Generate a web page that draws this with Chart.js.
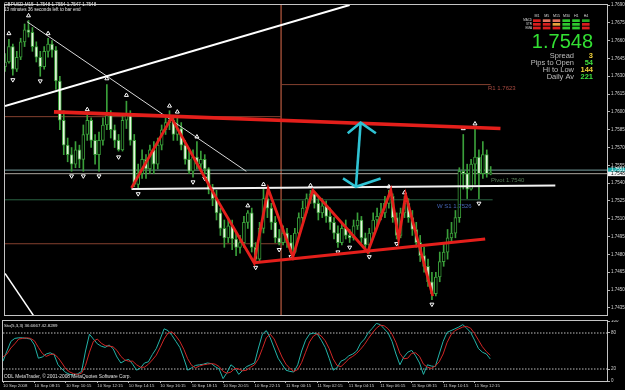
<!DOCTYPE html>
<html>
<head>
<meta charset="utf-8">
<script src="https://cdn.jsdelivr.net/npm/chart.js@4.4.1/dist/chart.umd.min.js"></script>
<style>
    html, body { margin: 0; padding: 0; background: #000; }
    #wrap { position: relative; width: 625px; height: 390px; overflow: hidden; background: #000; }
    #mainChart { position: absolute; left: 0; top: 0; }
    #stochChart { position: absolute; left: 0; top: 320px; }
</style>
</head>
<body>
<div id="wrap">
    <canvas id="mainChart" width="625" height="320"></canvas>
    <canvas id="stochChart" width="625" height="70"></canvas>
</div>
<script>
// GBPUSD M15 candles, one per 15 minutes from 10 Sep 06:15
const opens = [
    1.7638,1.7642,1.7655,1.7636,1.7646,1.7659,1.7669,1.7667,1.7655,1.7646,
    1.7638,1.7651,1.7657,1.7652,1.7626,1.7593,1.7572,1.7564,1.7556,1.7568,
    1.7560,1.7581,1.7593,1.7576,1.7564,1.7576,1.7589,1.7597,1.7585,1.7576,
    1.7568,1.7593,1.7597,1.7576,1.7539,1.7548,1.7560,1.7552,1.7568,1.7556,
    1.7572,1.7585,1.7591,1.7593,1.7581,1.7586,1.7572,1.7560,1.7550,1.7562,
    1.7556,1.7560,1.7552,1.7535,1.7527,1.7515,1.7502,1.7494,1.7504,1.7493,
    1.7486,1.7490,1.7507,1.7515,1.7486,1.7476,1.7502,1.7527,1.7519,1.7507,
    1.7494,1.7490,1.7498,1.7490,1.7482,1.7498,1.7511,1.7519,1.7527,1.7531,
    1.7523,1.7515,1.7521,1.7512,1.7507,1.7498,1.7490,1.7502,1.7496,1.7494,
    1.7504,1.7509,1.7494,1.7488,1.7498,1.7509,1.7512,1.7515,1.7523,1.7529,
    1.7511,1.7496,1.7515,1.7523,1.7511,1.7501,1.7490,1.7479,1.7470,1.7457,
    1.7447,1.7461,1.7474,1.7482,1.7494,1.7498,1.7511,1.7550,1.7548,1.7535,
    1.7556,1.7562,1.7548,1.7564,1.7548
];
const highs = [
    1.7649,1.7661,1.7657,1.7651,1.7662,1.7674,1.7677,1.7671,1.7659,1.7651,
    1.7655,1.7662,1.7660,1.7655,1.7630,1.7601,1.7578,1.7570,1.7575,1.7572,
    1.7589,1.7598,1.7595,1.7581,1.7583,1.7595,1.7623,1.7601,1.7589,1.7581,
    1.7598,1.7609,1.7601,1.7581,1.7556,1.7568,1.7564,1.7572,1.7575,1.7578,
    1.7589,1.7595,1.7601,1.7597,1.7595,1.7591,1.7576,1.7567,1.7568,1.7575,
    1.7567,1.7564,1.7553,1.7539,1.7534,1.7519,1.7509,1.7511,1.7509,1.7498,
    1.7496,1.7512,1.7517,1.7519,1.7490,1.7507,1.7535,1.7531,1.7523,1.7512,
    1.7501,1.7504,1.7502,1.7496,1.7502,1.7515,1.7525,1.7531,1.7534,1.7533,
    1.7527,1.7527,1.7525,1.7519,1.7511,1.7504,1.7507,1.7509,1.7501,1.7509,
    1.7515,1.7512,1.7498,1.7502,1.7515,1.7519,1.7523,1.7529,1.7534,1.7531,
    1.7515,1.7519,1.7529,1.7527,1.7517,1.7507,1.7496,1.7486,1.7476,1.7465,
    1.7465,1.7482,1.7490,1.7501,1.7507,1.7517,1.7553,1.7581,1.7556,1.7560,
    1.7587,1.7568,1.7575,1.7568,1.7554
];
const lows = [
    1.7634,1.7641,1.7631,1.7634,1.7644,1.7655,1.7663,1.7651,1.7642,1.7630,
    1.7636,1.7646,1.7646,1.7619,1.7585,1.7564,1.7558,1.7550,1.7553,1.7553,
    1.7550,1.7576,1.7570,1.7556,1.7550,1.7572,1.7585,1.7578,1.7570,1.7567,
    1.7567,1.7586,1.7572,1.7537,1.7535,1.7544,1.7544,1.7548,1.7548,1.7552,
    1.7568,1.7581,1.7585,1.7576,1.7576,1.7568,1.7556,1.7548,1.7545,1.7552,
    1.7550,1.7548,1.7531,1.7521,1.7509,1.7496,1.7486,1.7490,1.7484,1.7479,
    1.7481,1.7486,1.7502,1.7482,1.7473,1.7474,1.7498,1.7511,1.7501,1.7490,
    1.7488,1.7488,1.7486,1.7481,1.7481,1.7494,1.7507,1.7515,1.7523,1.7519,
    1.7509,1.7511,1.7507,1.7501,1.7493,1.7486,1.7488,1.7493,1.7490,1.7492,
    1.7501,1.7490,1.7484,1.7481,1.7496,1.7504,1.7509,1.7511,1.7519,1.7507,
    1.7493,1.7494,1.7511,1.7507,1.7496,1.7486,1.7474,1.7465,1.7453,1.7442,
    1.7445,1.7457,1.7470,1.7476,1.7490,1.7494,1.7507,1.7535,1.7527,1.7534,
    1.7539,1.7527,1.7544,1.7545,1.7547
];
const closes = [
    1.7642,1.7655,1.7636,1.7646,1.7659,1.7669,1.7667,1.7655,1.7646,1.7638,
    1.7651,1.7657,1.7652,1.7626,1.7593,1.7572,1.7564,1.7556,1.7568,1.7560,
    1.7581,1.7593,1.7576,1.7564,1.7576,1.7589,1.7597,1.7585,1.7576,1.7568,
    1.7593,1.7597,1.7576,1.7539,1.7548,1.7560,1.7552,1.7568,1.7556,1.7572,
    1.7585,1.7591,1.7593,1.7581,1.7586,1.7572,1.7560,1.7550,1.7562,1.7556,
    1.7560,1.7552,1.7535,1.7527,1.7515,1.7502,1.7494,1.7504,1.7493,1.7486,
    1.7490,1.7507,1.7515,1.7486,1.7476,1.7502,1.7527,1.7519,1.7507,1.7494,
    1.7490,1.7498,1.7490,1.7482,1.7498,1.7511,1.7519,1.7527,1.7531,1.7523,
    1.7515,1.7521,1.7512,1.7507,1.7498,1.7490,1.7502,1.7496,1.7494,1.7504,
    1.7509,1.7494,1.7488,1.7498,1.7509,1.7512,1.7515,1.7523,1.7529,1.7511,
    1.7496,1.7515,1.7523,1.7511,1.7501,1.7490,1.7479,1.7470,1.7457,1.7447,
    1.7461,1.7474,1.7482,1.7494,1.7498,1.7511,1.7550,1.7548,1.7535,1.7556,
    1.7562,1.7548,1.7564,1.7548,1.7548
];

// Stochastic(5,3,3)
const stochK = [
    33,50,66,71,72,72,71,70,60,38, 40,45,47,44,27,20,14,11,10,12,
    16,50,78,70,62,58,56,60,54,40, 30,34,36,28,18,22,30,32,44,54,
    70,87,84,76,66,56,38,18,22,26, 27,28,30,29,24,20,4,14,27,22,
    11,18,24,27,30,55,78,84,72,55, 38,28,18,16,15,27,50,68,78,80,
    78,68,56,38,18,22,33,36,42,45, 50,63,70,81,88,96,94,87,80,66,
    45,27,40,48,51,42,30,11,27,25, 24,45,66,81,84,87,90,94,88,81,
    68,54,48,45,36.6667
];
const stochD = [
    40,45,55,62,70,71,72,71,67,56, 46,41,44,45,39,30,20,15,12,11,
    13,26,48,66,70,63,59,58,57,51, 41,35,33,33,27,23,23,28,35,43,
    56,70,80,82,75,66,53,37,26,22, 25,27,28,29,28,24,16,13,15,21,
    20,17,18,23,27,37,54,72,78,70, 55,40,28,21,16,19,31,48,65,75,
    79,75,67,54,37,26,24,30,37,41, 46,53,61,71,80,88,93,92,87,78,
    64,46,37,38,46,47,41,28,23,21, 25,32,45,64,77,84,87,90,91,88,
    79,68,57,49,42.8289
];
const stochLevels = [20, 80];
const stochTicks = [0, 20, 80, 100];

const timeLabels = [
    '10 Sep 2008', '10 Sep 08:15', '10 Sep 10:15', '10 Sep 12:15', '10 Sep 14:15',
    '10 Sep 16:15', '10 Sep 18:15', '10 Sep 20:15', '10 Sep 22:15', '11 Sep 00:15',
    '11 Sep 02:15', '11 Sep 04:15', '11 Sep 06:15', '11 Sep 08:15', '11 Sep 10:15',
    '11 Sep 12:15'
];
const priceTicks = [
    1.7435, 1.7450, 1.7465, 1.7480, 1.7495, 1.7510, 1.7525, 1.7540, 1.7555,
    1.7570, 1.7585, 1.7600, 1.7615, 1.7630, 1.7645, 1.7660, 1.7675, 1.7690
];

// fractal arrows: bar index and price
const upFractalIdx = [1, 6, 11, 21, 26, 31, 42, 44, 49, 62, 66, 78, 98, 102, 117, 120];
const upFractalPrice = [1.7666, 1.7681, 1.7666, 1.7602, 1.7628, 1.7614, 1.7605, 1.7600, 1.7579,
    1.7521, 1.7539, 1.7538, 1.7537, 1.7532, 1.7586, 1.7590];
const downFractalIdx = [2, 9, 17, 20, 24, 29, 34, 48, 51, 64, 70, 73, 85, 88, 93, 100, 109, 121];
const downFractalPrice = [1.7627, 1.7626, 1.7546, 1.7546, 1.7546, 1.7562, 1.7531, 1.7541, 1.7544,
    1.7469, 1.7484, 1.7478, 1.7482, 1.7486, 1.7478, 1.7489, 1.7438, 1.7523];

// drawn objects, [bar index, price]
const upTrendLine = [[0, 1.7605], [88, 1.7690]];
const fanLine = [[5.6, 1.7676], [61.6, 1.7550]];
const leftLine = [[0, 1.7464], [8, 1.7425]];
const resistanceLine = [[12.5, 1.7600], [126.5, 1.7586]];
const supportLine = [[63.6, 1.7473], [122.6, 1.7493]];
const zigzag = [[32.3, 1.7536], [42.5, 1.7595], [54.7, 1.7523], [63.6, 1.7473], [67.2, 1.7535],
    [73.5, 1.7478], [78.6, 1.7534], [92.6, 1.7482], [98.5, 1.7534], [100.5, 1.7493],
    [102.3, 1.7530], [109.2, 1.7445]];
const rangeLine = [[32.3, 1.7535], [140.5, 1.7538]];
const arrowShaft = [[89.6, 1.7537], [90.8, 1.7591]];
const arrowTop = [[87.5, 1.7582], [90.8, 1.7591], [94.7, 1.7582]];
const arrowBottom = [[86.3, 1.7544], [89.6, 1.7537], [95.9, 1.7544]];

// pivot levels
const prevDayLevels = [1.7596, 1.7489];
const dayBreakIdx = 70.5;
const r1Level = 1.7623;
const weeklyS1 = 1.7526;
const levelEndIdx = 124;
const askPrice = 1.7551;
const bidPrice = 1.7548;

// info panel
const tfNames = ['M1', 'M5', 'M15', 'M30', 'H1', 'H4'];
const signalNames = ['MACD', 'STR', 'EMA'];
const signalColors = [
    ['#d81e1e', '#e2725e', '#e2725e', '#2fc82f', '#2fc82f', '#25a525'],
    ['#d81e1e', '#d81e1e', '#e6a23a', '#2fc82f', '#2fc82f', '#d81e1e'],
    ['#d81e1e', '#d81e1e', '#d81e1e', '#2fc82f', '#2fc82f', '#d81e1e']
];
const statNames = ['Spread', 'Pips to Open', 'Hi to Low', 'Daily Av'];
const statValues = [3, 54, 144, 221];
const statColors = ['#f2d23a', '#3fe03f', '#f2d23a', '#3fe03f'];

const xMax = 153.7;
const FONT = '"Liberation Sans", Arial, sans-serif';
Chart.defaults.font.family = FONT;

const last = closes.length - 1;
const candleGreen = '#3a9f3a';

function toPts(arr) {
    return arr.map(p => ({ x: p[0], y: p[1] }));
}

function lineDs(pts, color, width, order, dash) {
    return {
        type: 'line',
        data: toPts(pts),
        borderColor: color,
        borderWidth: width,
        borderDash: dash || [],
        pointRadius: 0,
        fill: false,
        tension: 0,
        order: order
    };
}

const wickData = opens.map((_, i) => ({ x: i, y: [lows[i], highs[i]] }));
const bodyData = opens.map((_, i) => ({ x: i, y: [opens[i], closes[i]] }));
const bodyFill = opens.map((o, i) => closes[i] < o ? '#e6f6de' : '#000000');

const mainDecor = {
    id: 'mainDecor',
    afterDraw(chart) {
        const { ctx, chartArea: a, scales: { y } } = chart;
        ctx.save();
        ctx.strokeStyle = '#c4c4c4';
        ctx.lineWidth = 1;
        ctx.strokeRect(a.left - 0.5, a.top - 0.5, a.right - a.left + 1, a.bottom - a.top + 1);

        // header
        ctx.fillStyle = '#e8e8e8';
        ctx.textBaseline = 'middle';
        ctx.font = '4.6px ' + FONT;
        ctx.fillText('GBPUSD,M15  ' + [opens[last], highs[last], lows[last], closes[last]].map(v => v.toFixed(4)).join(' '), 4, 5);
        ctx.fillText('13 minutes 36 seconds left to bar end', 4, 10);

        // level labels
        ctx.font = '6px ' + FONT;
        ctx.fillStyle = '#a84a40';
        ctx.fillText('R1 ' + r1Level.toFixed(4), 488, 88);
        ctx.fillStyle = '#557a55';
        ctx.fillText('Pivot 1.7540', 491, 180);
        ctx.fillStyle = '#4565b5';
        ctx.fillText('W S1 ' + weeklyS1.toFixed(4), 437, 206);

        // signal grid
        ctx.textAlign = 'center';
        ctx.font = '3.6px ' + FONT;
        ctx.fillStyle = '#d8d8d8';
        tfNames.forEach((t, c) => ctx.fillText(t, 537 + c * 9.8, 16));
        ctx.textAlign = 'right';
        ctx.font = '3px ' + FONT;
        signalNames.forEach((s, r) => ctx.fillText(s, 532, 20.6 + r * 3.7));
        signalColors.forEach((row, r) => row.forEach((col, c) => {
            ctx.fillStyle = col;
            ctx.fillRect(533 + c * 9.8, 19.3 + r * 3.7, 7.6, 2.7);
        }));

        // price and stats
        ctx.textBaseline = 'alphabetic';
        ctx.font = '20px ' + FONT;
        ctx.fillStyle = '#33e033';
        ctx.fillText(closes[last].toFixed(4), 593, 48);
        ctx.textBaseline = 'middle';
        statNames.forEach((s, k) => {
            ctx.font = '7.5px ' + FONT;
            ctx.fillStyle = '#bdbdbd';
            ctx.fillText(s, 574, 55.5 + k * 7.3);
            ctx.font = 'bold 7.5px ' + FONT;
            ctx.fillStyle = statColors[k];
            ctx.fillText(String(statValues[k]), 593, 55.5 + k * 7.3);
        });

        // price boxes on the axis
        ctx.textAlign = 'left';
        ctx.font = '4.5px ' + FONT;
        const ya = y.getPixelForValue(askPrice);
        ctx.fillStyle = '#1aa7a7';
        ctx.fillRect(a.right + 1, ya - 2.5, 18, 4.5);
        ctx.fillStyle = '#ffffff';
        ctx.fillText(askPrice.toFixed(4), a.right + 4, ya);
        const yb = y.getPixelForValue(bidPrice);
        ctx.fillStyle = '#f4f4f4';
        ctx.fillRect(a.right + 1, yb - 2, 18, 4.5);
        ctx.fillStyle = '#000000';
        ctx.fillText(bidPrice.toFixed(4), a.right + 4, yb + 0.3);
        ctx.restore();
    }
};

new Chart(document.getElementById('mainChart'), {
    type: 'bar',
    data: {
        datasets: [
            lineDs(arrowShaft, '#2fc3d4', 2.6, 0),
            lineDs(arrowTop, '#2fc3d4', 2.6, 0),
            lineDs(arrowBottom, '#2fc3d4', 2.6, 0),
            lineDs(resistanceLine, '#e41f1b', 3.6, 1),
            lineDs(supportLine, '#e41f1b', 3.2, 1),
            lineDs(zigzag, '#e41f1b', 2.8, 1),
            {
                type: 'line',
                data: upFractalIdx.map((x, k) => ({ x, y: upFractalPrice[k] })),
                showLine: false,
                pointStyle: 'triangle',
                pointRadius: 2.3,
                pointBorderWidth: 1,
                pointBorderColor: '#ffffff',
                pointBackgroundColor: 'rgba(0,0,0,0)',
                order: 2
            },
            {
                type: 'line',
                data: downFractalIdx.map((x, k) => ({ x, y: downFractalPrice[k] })),
                showLine: false,
                pointStyle: 'triangle',
                pointRotation: 180,
                pointRadius: 2.3,
                pointBorderWidth: 1,
                pointBorderColor: '#ffffff',
                pointBackgroundColor: 'rgba(0,0,0,0)',
                order: 2
            },
            lineDs(upTrendLine, '#ffffff', 2, 3),
            lineDs(fanLine, '#d8d8d8', 1, 3),
            lineDs(leftLine, '#ffffff', 1.5, 3),
            lineDs(rangeLine, '#f2f2f2', 2, 3),
            {
                type: 'bar',
                data: bodyData,
                backgroundColor: bodyFill,
                borderColor: candleGreen,
                borderWidth: 1,
                borderSkipped: false,
                barThickness: 3,
                minBarLength: 1,
                grouped: false,
                order: 4
            },
            {
                type: 'bar',
                data: wickData,
                backgroundColor: candleGreen,
                borderWidth: 0,
                barThickness: 1,
                grouped: false,
                order: 5
            },
            lineDs([[0, askPrice], [xMax, askPrice]], '#789e9e', 1, 6),
            lineDs([[0, bidPrice], [xMax, bidPrice]], '#a9a39c', 1, 6),
            lineDs([[0, prevDayLevels[0]], [dayBreakIdx, prevDayLevels[0]]], '#84402f', 1, 6),
            lineDs([[0, prevDayLevels[1]], [dayBreakIdx, prevDayLevels[1]]], '#84402f', 1, 6),
            lineDs([[dayBreakIdx, 1.7700], [dayBreakIdx, 1.7420]], '#84402f', 1, 6),
            lineDs([[dayBreakIdx, r1Level], [levelEndIdx, r1Level]], '#84402f', 1, 6),
            lineDs([[0, weeklyS1], [levelEndIdx + 0.5, weeklyS1]], '#2b6443', 1, 6)
        ]
    },
    options: {
        responsive: false,
        animation: false,
        devicePixelRatio: 1,
        events: [],
        layout: { padding: { left: 3, top: 2, right: 0, bottom: 1 } },
        plugins: { legend: { display: false }, tooltip: { enabled: false } },
        scales: {
            x: { type: 'linear', display: false, min: 0, max: xMax, offset: false },
            y: {
                position: 'right',
                min: 1.7429,
                max: 1.7690,
                afterFit: s => { s.width = 18; s.paddingTop = 0; s.paddingBottom = 0; },
                afterBuildTicks: s => { s.ticks = priceTicks.map(v => ({ value: v })); },
                ticks: {
                    color: '#d6d6d6',
                    font: { size: 4.5 },
                    padding: 1,
                    callback: v => v.toFixed(4)
                },
                grid: { drawOnChartArea: false, tickLength: 3, color: '#b4b4b4' },
                border: { color: '#c4c4c4' }
            }
        }
    },
    plugins: [mainDecor]
});

const stochDecor = {
    id: 'stochDecor',
    afterDraw(chart) {
        const { ctx, chartArea: a } = chart;
        ctx.save();
        ctx.strokeStyle = '#c4c4c4';
        ctx.lineWidth = 1;
        ctx.strokeRect(a.left - 0.5, a.top - 0.5, a.right - a.left + 1, a.bottom - a.top + 1);
        ctx.fillStyle = '#e0e0e0';
        ctx.textBaseline = 'middle';
        ctx.font = '4.4px ' + FONT;
        ctx.fillText('Sto(5,3,3) ' + stochK[last].toFixed(4) + ' ' + stochD[last].toFixed(4), 4, a.top + 4.5);
        ctx.font = '4.8px ' + FONT;
        ctx.fillText('ODL MetaTrader, \u00a9 2001-2008 MetaQuotes Software Corp.', 4, a.bottom - 4);
        ctx.restore();
    }
};

new Chart(document.getElementById('stochChart'), {
    type: 'line',
    data: {
        datasets: [
            {
                data: stochD.map((v, i) => ({ x: i, y: v })),
                borderColor: '#d02626',
                borderWidth: 1,
                pointRadius: 0,
                tension: 0,
                order: 0
            },
            {
                data: stochK.map((v, i) => ({ x: i, y: v })),
                borderColor: '#23b3a8',
                borderWidth: 1,
                pointRadius: 0,
                tension: 0,
                order: 1
            },
            ...stochLevels.map(lv => lineDs([[0, lv], [xMax, lv]], '#bdbdbd', 1, 2, [1.5, 1.5]))
        ]
    },
    options: {
        responsive: false,
        animation: false,
        devicePixelRatio: 1,
        events: [],
        layout: { padding: { left: 3, top: 1, right: 0, bottom: 0 } },
        plugins: { legend: { display: false }, tooltip: { enabled: false } },
        scales: {
            x: {
                type: 'linear',
                min: 0,
                max: xMax,
                offset: false,
                afterFit: s => { s.height = 9; s.paddingLeft = 0; s.paddingRight = 0; },
                afterBuildTicks: s => { s.ticks = timeLabels.map((t, k) => ({ value: k * 8 })); },
                ticks: {
                    align: 'start',
                    maxRotation: 0,
                    autoSkip: false,
                    padding: 0,
                    color: '#d0d0d0',
                    font: { size: 4.3 },
                    callback: (v, i) => timeLabels[i]
                },
                grid: { drawOnChartArea: false, tickLength: 2, color: '#b4b4b4' },
                border: { color: '#c4c4c4' }
            },
            y: {
                position: 'right',
                min: 0,
                max: 100,
                afterFit: s => { s.width = 18; s.paddingTop = 0; s.paddingBottom = 0; },
                afterBuildTicks: s => { s.ticks = stochTicks.map(v => ({ value: v })); },
                ticks: { color: '#d0d0d0', font: { size: 4.5 }, padding: 1 },
                grid: { drawOnChartArea: false, tickLength: 3, color: '#b4b4b4' },
                border: { color: '#c4c4c4' }
            }
        }
    },
    plugins: [stochDecor]
});
</script>
</body>
</html>
